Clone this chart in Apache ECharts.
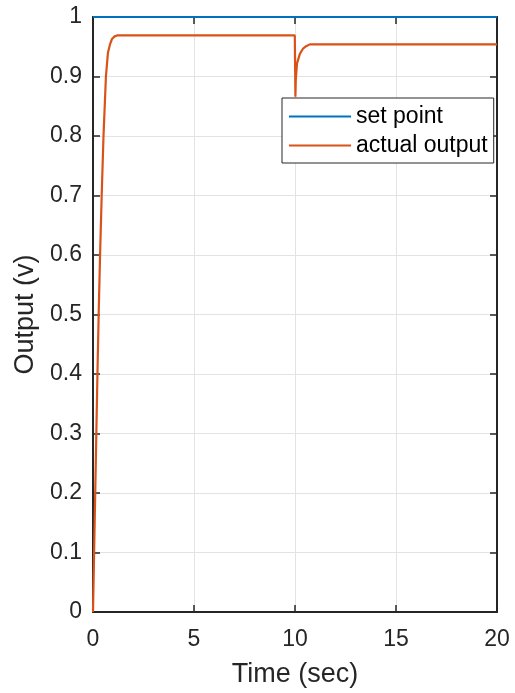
<!DOCTYPE html>
<html>
<head>
<meta charset="utf-8">
<script src="https://cdn.jsdelivr.net/npm/echarts@6/dist/echarts.min.js"></script>
<style>html,body{margin:0;padding:0;background:#fff}#c{width:515px;height:693px}</style>
</head>
<body>
<div id="c"></div>
<script>
var xTicks = [0, 5, 10, 15, 20];
var yTickLabels = ['0','0.1','0.2','0.3','0.4','0.5','0.6','0.7','0.8','0.9','1'];
var setTime = [0, 20];
var setValue = [1, 1];
var outTime = [0, 0.055, 0.11, 0.165, 0.22, 0.28, 0.35, 0.43, 0.52, 0.64, 0.74, 0.85, 0.94, 1.05, 1.19, 9.99, 10.02, 10.04, 10.1, 10.24, 10.4, 10.55, 10.73, 20];
var outValue = [0, 0.1, 0.2, 0.3, 0.4, 0.5, 0.6, 0.7, 0.8, 0.9, 0.94, 0.955, 0.963, 0.967, 0.969, 0.969, 0.866, 0.895, 0.922, 0.938, 0.947, 0.951, 0.954, 0.954];

function pairs(a, b) { return a.map(function (v, i) { return [v, b[i]]; }); }

var txt = '#262626';
var font = 'Liberation Sans, Arial, Helvetica, sans-serif';
var chart = echarts.init(document.getElementById('c'));
var axisLine = { show: true, onZero: false, lineStyle: { color: txt, width: 2 } };
var tick = { show: true, inside: true, length: 7, lineStyle: { color: txt, width: 1.5 } };
chart.setOption({
  animation: false,
  backgroundColor: '#fff',
  grid: { left: 93, right: 18, top: 17, bottom: 81, containLabel: false },
  legend: {
    left: 282, top: 98, orient: 'vertical',
    padding: [7, 6, 6, 7], itemGap: 6, itemWidth: 62, itemHeight: 23,
    backgroundColor: '#fff', borderColor: '#262626', borderWidth: 1,
    textStyle: { fontSize: 23, color: '#000', fontFamily: font },
    icon: 'path://M0,10.4 L62,10.4 L62,12.6 L0,12.6 Z',
    data: ['set point', 'actual output']
  },
  xAxis: [{
    type: 'value', min: 0, max: 20, interval: 5,
    name: 'Time (sec)', nameLocation: 'middle', nameGap: 49,
    nameTextStyle: { fontSize: 27, color: txt, fontFamily: font },
    axisLine: axisLine, axisTick: tick,
    axisLabel: { fontSize: 23, color: txt, fontFamily: font, margin: 16,
      formatter: function (v) { return xTicks.indexOf(v) >= 0 ? String(v) : ''; } },
    splitLine: { show: true, lineStyle: { color: '#e3e3e3', width: 1 } }
  }, {
    type: 'value', position: 'top', min: 0, max: 20, interval: 5,
    axisLine: axisLine, axisTick: tick, axisLabel: { show: false }, splitLine: { show: false }
  }],
  yAxis: [{
    type: 'value', min: 0, max: 1, interval: 0.1,
    name: 'Output (v)', nameLocation: 'middle', nameGap: 51,
    nameTextStyle: { fontSize: 27, color: txt, fontFamily: font },
    axisLine: axisLine, axisTick: tick,
    axisLabel: { fontSize: 23, color: txt, fontFamily: font, margin: 11,
      formatter: function (v) { return yTickLabels[Math.round(v * 10)]; } },
    splitLine: { show: true, lineStyle: { color: '#e3e3e3', width: 1 } }
  }, {
    type: 'value', position: 'right', min: 0, max: 1, interval: 0.1,
    axisLine: axisLine, axisTick: tick, axisLabel: { show: false }, splitLine: { show: false }
  }],
  series: [{
    name: 'set point', type: 'line', showSymbol: false, symbol: 'none',
    data: pairs(setTime, setValue), color: '#0072BD',
    lineStyle: { width: 2, color: '#0072BD' }, z: 5
  }, {
    name: 'actual output', type: 'line', showSymbol: false, symbol: 'none', smooth: false,
    data: pairs(outTime, outValue), color: '#D95319',
    lineStyle: { width: 2.2, color: '#D95319' }, z: 4
  }]
});
</script>
</body>
</html>
